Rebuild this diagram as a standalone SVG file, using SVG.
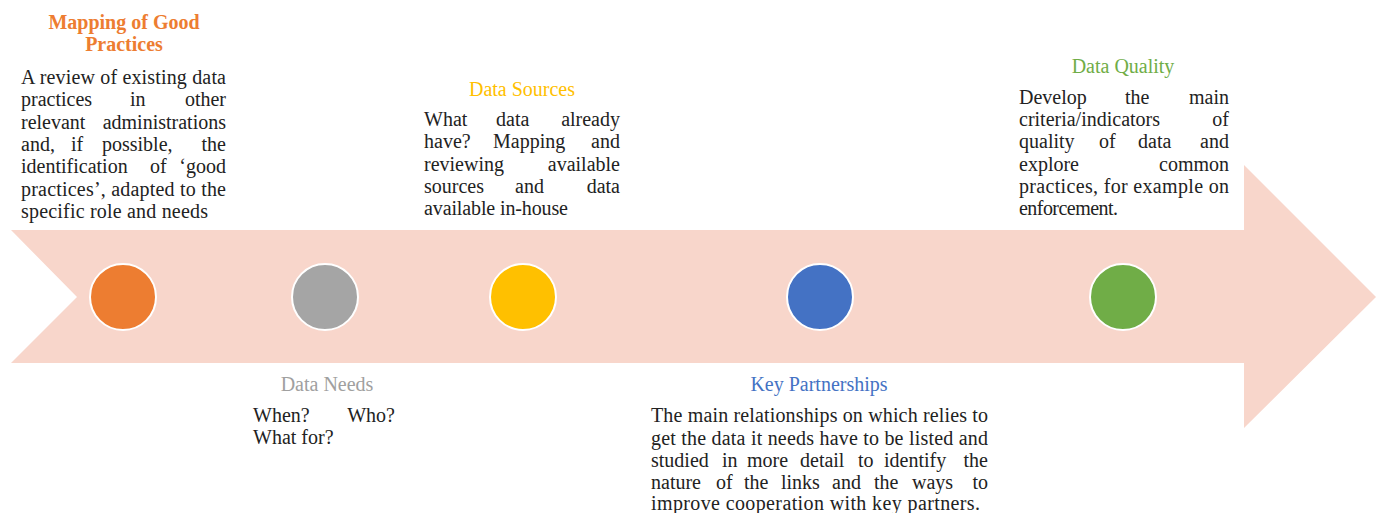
<svg xmlns="http://www.w3.org/2000/svg" width="1379" height="513" viewBox="0 0 1379 513">
<style>
.body{font-family:"Liberation Serif","Times New Roman",serif;font-size:20px;fill:#222222}
.title{font-family:"Liberation Serif","Times New Roman",serif;font-size:20px;text-anchor:middle}
.end{text-anchor:end}
.dot{stroke:#ffffff;stroke-width:2}
</style>
<rect width="1379" height="513" fill="#ffffff"/>
<g id="connectors">
<polygon id="timeline-arrow" points="11,230 1244,230 1244,165 1376,297 1244,428 1244,363 11,363 77,297" fill="#F8D6CB"/>
</g>
<g id="node-mapping">
<circle class="dot" cx="123" cy="297" r="33" fill="#ED7D31"/>
<text class="title" x="124" y="29" fill="#ED7D31" font-weight="bold">Mapping of Good</text>
<text class="title" x="124" y="51" fill="#ED7D31" font-weight="bold">Practices</text>
<text class="body" x="21" y="84" textLength="205" lengthAdjust="spacing">A review of existing data</text>
<text class="body" y="106"><tspan x="21">practices</tspan><tspan x="130">in</tspan><tspan x="226" class="end">other</tspan></text>
<text class="body" y="129"><tspan x="21">relevant</tspan><tspan x="226" class="end">administrations</tspan></text>
<text class="body" y="151"><tspan x="21">and,</tspan><tspan x="71">if</tspan><tspan x="102">possible,</tspan><tspan x="226" class="end">the</tspan></text>
<text class="body" y="173"><tspan x="21">identification</tspan><tspan x="150">of</tspan><tspan x="226" class="end">‘good</tspan></text>
<text class="body" x="21" y="196" textLength="205" lengthAdjust="spacing">practices’, adapted to the</text>
<text class="body" x="21" y="218" textLength="187" lengthAdjust="spacing">specific role and needs</text>
</g>
<g id="node-data-needs">
<circle class="dot" cx="325" cy="297" r="33" fill="#A5A5A5"/>
<text class="title" x="327" y="391" fill="#A0A0A0">Data Needs</text>
<text class="body" y="422"><tspan x="253">When?</tspan><tspan x="395" class="end">Who?</tspan></text>
<text class="body" x="253" y="444">What for?</text>
</g>
<g id="node-data-sources">
<circle class="dot" cx="523" cy="297" r="33" fill="#FFC000"/>
<text class="title" x="522" y="96" fill="#FFC000">Data Sources</text>
<text class="body" y="126"><tspan x="424">What</tspan><tspan x="496">data</tspan><tspan x="620" class="end">already</tspan></text>
<text class="body" y="148"><tspan x="424">have?</tspan><tspan x="493">Mapping</tspan><tspan x="620" class="end">and</tspan></text>
<text class="body" y="171"><tspan x="424">reviewing</tspan><tspan x="620" class="end">available</tspan></text>
<text class="body" y="193"><tspan x="424">sources</tspan><tspan x="515">and</tspan><tspan x="620" class="end">data</tspan></text>
<text class="body" x="424" y="215" textLength="144" lengthAdjust="spacing">available in-house</text>
</g>
<g id="node-key-partnerships">
<circle class="dot" cx="820" cy="297" r="33" fill="#4472C4"/>
<text class="title" x="819" y="391" fill="#4472C4">Key Partnerships</text>
<text class="body" x="651" y="422" textLength="337" lengthAdjust="spacing">The main relationships on which relies to</text>
<text class="body" x="651" y="445" textLength="337" lengthAdjust="spacing">get the data it needs have to be listed and</text>
<text class="body" y="467"><tspan x="651">studied</tspan><tspan x="722">in</tspan><tspan x="747">more</tspan><tspan x="800">detail</tspan><tspan x="858">to</tspan><tspan x="884">identify</tspan><tspan x="988" class="end">the</tspan></text>
<text class="body" y="489"><tspan x="651">nature</tspan><tspan x="716">of</tspan><tspan x="744">the</tspan><tspan x="781">links</tspan><tspan x="832">and</tspan><tspan x="874">the</tspan><tspan x="912">ways</tspan><tspan x="988" class="end">to</tspan></text>
<text class="body" x="651" y="510" textLength="329" lengthAdjust="spacing">improve cooperation with key partners.</text>
</g>
<g id="node-data-quality">
<circle class="dot" cx="1123" cy="297" r="33" fill="#70AD47"/>
<text class="title" x="1123" y="73" fill="#70AD47">Data Quality</text>
<text class="body" y="104"><tspan x="1019">Develop</tspan><tspan x="1125">the</tspan><tspan x="1229" class="end">main</tspan></text>
<text class="body" y="126"><tspan x="1019">criteria/indicators</tspan><tspan x="1229" class="end">of</tspan></text>
<text class="body" y="148"><tspan x="1019">quality</tspan><tspan x="1099">of</tspan><tspan x="1138">data</tspan><tspan x="1229" class="end">and</tspan></text>
<text class="body" y="171"><tspan x="1019">explore</tspan><tspan x="1229" class="end">common</tspan></text>
<text class="body" x="1019" y="193" textLength="210" lengthAdjust="spacing">practices, for example on</text>
<text class="body" x="1019" y="215" textLength="99" lengthAdjust="spacing">enforcement.</text>
</g>
</svg>
